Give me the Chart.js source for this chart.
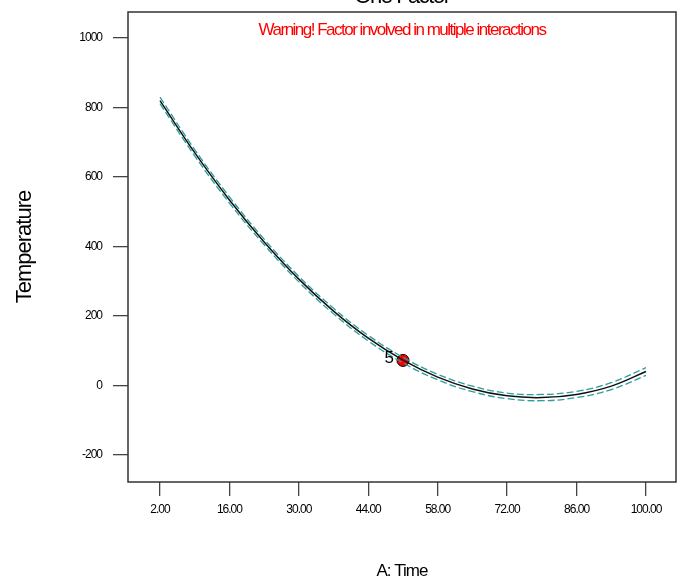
<!DOCTYPE html>
<html>
<head>
<meta charset="utf-8">
<script src="https://cdn.jsdelivr.net/npm/chart.js@4.4.0/dist/chart.umd.min.js"></script>
<style>
  html, body { margin: 0; padding: 0; background: #fff; }
  #wrap { width: 683px; height: 579px; }
</style>
</head>
<body>
<div id="wrap"><canvas id="chart"></canvas></div>
<script>
// values
var timeValues  = [2, 9, 16, 23, 30, 37, 44, 51, 58, 65, 72, 79, 86, 93, 100];
var predicted   = [820, 670, 534, 413, 306, 214, 136, 73, 24, -10, -30, -35, -26, -2, 40];
var upperBand   = [830, 679, 543, 421, 314, 222, 144, 81, 32, -2, -22, -26, -17, 8, 51];
var lowerBand   = [811, 661, 525, 405, 298, 206, 128, 65, 16, -18, -38, -44, -35, -12, 29];
var designPoint = [{x: 51, y: 72}];
var pointLabels = ['5'];
var xTicks = [2, 16, 30, 44, 58, 72, 86, 100];
var yTicks = [-200, 0, 200, 400, 600, 800, 1000];

function toXY(ys) {
    return timeValues.map(function(x, i) { return {x: x, y: ys[i]}; });
}

var fontName = '"Liberation Sans", Arial, sans-serif';

var framePlugin = {
    id: 'frame',
    beforeDraw: function(chart) {
        chart.ctx.letterSpacing = '-1px';
    },
    afterDraw: function(chart) {
        var ctx = chart.ctx;
        var a = chart.chartArea;
        ctx.save();
        ctx.strokeStyle = '#333';
        ctx.lineWidth = 1.5;
        ctx.strokeRect(a.left, a.top, a.right - a.left, a.bottom - a.top);

        ctx.fillStyle = '#000';
        ctx.textAlign = 'center';
        ctx.textBaseline = 'alphabetic';
        ctx.font = '22px ' + fontName;
        ctx.letterSpacing = '-1.5px';
        ctx.fillText('One Factor', (a.left + a.right) / 2, 3);

        ctx.fillStyle = '#ff0000';
        ctx.font = '17px ' + fontName;
        ctx.letterSpacing = '-1.5px';
        ctx.fillText('Warning! Factor involved in multiple interactions', (a.left + a.right) / 2, 35);

        // point label
        var meta = chart.getDatasetMeta(3);
        ctx.fillStyle = '#000';
        ctx.font = '17px ' + fontName;
        ctx.letterSpacing = '0px';
        ctx.textAlign = 'right';
        ctx.textBaseline = 'middle';
        meta.data.forEach(function(el, i) {
            ctx.fillText(pointLabels[i], el.x - 9, el.y - 2);
        });
        ctx.restore();
    }
};

new Chart(document.getElementById('chart'), {
    type: 'scatter',
    data: {
        datasets: [{
            data: toXY(upperBand),
            showLine: true,
            borderColor: '#2a9d9d',
            borderWidth: 1.3,
            borderDash: [7, 3],
            pointRadius: 0,
            tension: 0.4
        }, {
            data: toXY(lowerBand),
            showLine: true,
            borderColor: '#2a9d9d',
            borderWidth: 1.3,
            borderDash: [7, 3],
            pointRadius: 0,
            tension: 0.4
        }, {
            data: toXY(predicted),
            showLine: true,
            borderColor: '#111',
            borderWidth: 1.5,
            pointRadius: 0,
            tension: 0.4
        }, {
            data: designPoint,
            pointRadius: 6,
            pointBackgroundColor: '#ff0000',
            pointBorderColor: '#000',
            pointBorderWidth: 1
        }]
    },
    options: {
        responsive: true,
        maintainAspectRatio: false,
        animation: false,
        layout: { padding: { left: 0, top: 12, right: 6, bottom: 0 } },
        plugins: {
            legend: { display: false },
            tooltip: { enabled: false }
        },
        scales: {
            x: {
                type: 'linear',
                min: -4.45,
                max: 106.05,
                afterFit: function(scale) {
                    scale.height = 97;
                    scale.paddingLeft = 0;
                    scale.paddingRight = 0;
                },
                afterBuildTicks: function(scale) {
                    scale.ticks = xTicks.map(function(v) { return {value: v}; });
                },
                border: { display: false },
                grid: {
                    drawOnChartArea: false,
                    drawTicks: true,
                    tickLength: 14,
                    tickColor: '#444',
                    lineWidth: 1.3
                },
                ticks: {
                    color: '#000',
                    padding: 6,
                    maxRotation: 0,
                    font: { family: fontName, size: 12 },
                    callback: function(v) { return v.toFixed(2); }
                },
                title: {
                    display: true,
                    text: 'A: Time',
                    color: '#000',
                    font: { family: fontName, size: 17, lineHeight: 1 },
                    padding: { top: 0, bottom: -1 }
                }
            },
            y: {
                min: -278,
                max: 1075,
                afterFit: function(scale) {
                    scale.width = 128;
                    scale.paddingTop = 0;
                    scale.paddingBottom = 0;
                },
                afterBuildTicks: function(scale) {
                    scale.ticks = yTicks.map(function(v) { return {value: v}; });
                },
                border: { display: false },
                grid: {
                    drawOnChartArea: false,
                    drawTicks: true,
                    tickLength: 15,
                    tickColor: '#444',
                    lineWidth: 1.3
                },
                ticks: {
                    color: '#000',
                    padding: 11,
                    font: { family: fontName, size: 12 },
                    callback: function(v) { return String(v); }
                },
                title: {
                    display: true,
                    text: 'Temperature',
                    color: '#000',
                    font: { family: fontName, size: 22, lineHeight: 1 },
                    padding: { top: 14, bottom: 0 }
                }
            }
        }
    },
    plugins: [framePlugin]
});
</script>
</body>
</html>
